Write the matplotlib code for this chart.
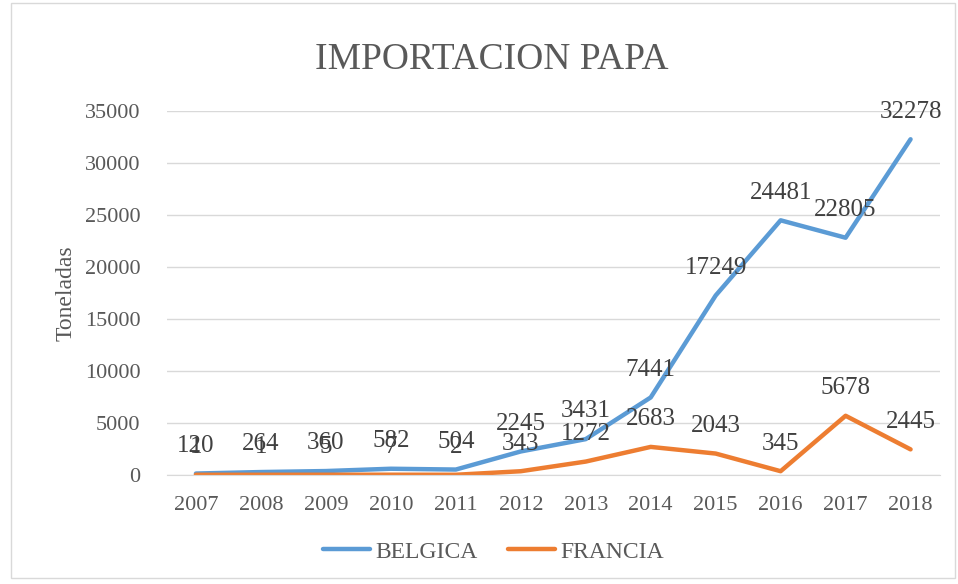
import matplotlib.pyplot as plt
from matplotlib.patches import Rectangle

years = ["2007", "2008", "2009", "2010", "2011", "2012",
         "2013", "2014", "2015", "2016", "2017", "2018"]
belgica = [120, 264, 360, 582, 504, 2245, 3431, 7441, 17249, 24481, 22805, 32278]
francia = [1, 1, 5, 7, 2, 343, 1272, 2683, 2043, 345, 5678, 2445]

plt.rcParams['font.family'] = ['Liberation Serif', 'DejaVu Serif']
txt = "#595959"

fig = plt.figure(figsize=(9.58, 5.84), dpi=100)
ax = fig.add_axes([0.174, 0.187, 0.807, 0.623])

x = range(len(years))
ax.plot(x, belgica, color="#5B9BD5", lw=3.2, label="BELGICA", solid_capstyle="round")
ax.plot(x, francia, color="#ED7D31", lw=3.2, label="FRANCIA", solid_capstyle="round")

# etiquetas de datos encima de cada punto
for i in x:
    ax.annotate(str(belgica[i]), (i, belgica[i]), xytext=(0, 12), textcoords="offset points",
                ha="center", va="bottom", fontsize=18, color="#404040")
    ax.annotate(str(francia[i]), (i, francia[i]), xytext=(0, 12), textcoords="offset points",
                ha="center", va="bottom", fontsize=18, color="#404040")

ax.set_xlim(-0.45, len(years) - 0.55)
ax.set_ylim(0, 35000)
ax.set_yticks(range(0, 35001, 5000))
ax.set_xticks(list(x))
ax.set_xticklabels(years)
ax.tick_params(axis="both", length=0, labelsize=16, colors=txt)
ax.tick_params(axis="y", pad=19)
ax.tick_params(axis="x", pad=15)
ax.grid(axis="y", color="#D9D9D9", lw=1)
ax.set_axisbelow(True)
for s in ["top", "right", "left"]:
    ax.spines[s].set_visible(False)
ax.spines["bottom"].set_color("#D9D9D9")

ax.set_ylabel("Toneladas", fontsize=17, color=txt, labelpad=6)
fig.text(0.513, 0.897, "IMPORTACION PAPA", ha="center", va="center", fontsize=27, color=txt)

fig.legend(loc="center", bbox_to_anchor=(0.515, 0.055), ncol=2, frameon=False,
           fontsize=17, labelcolor=txt, handlelength=2.0, handletextpad=0.2,
           columnspacing=1.3)

fig.patches.append(Rectangle((0.012, 0.01), 0.985, 0.985, transform=fig.transFigure,
                             fill=False, edgecolor="#D9D9D9", lw=1))

fig.savefig("out.png", dpi=100)
